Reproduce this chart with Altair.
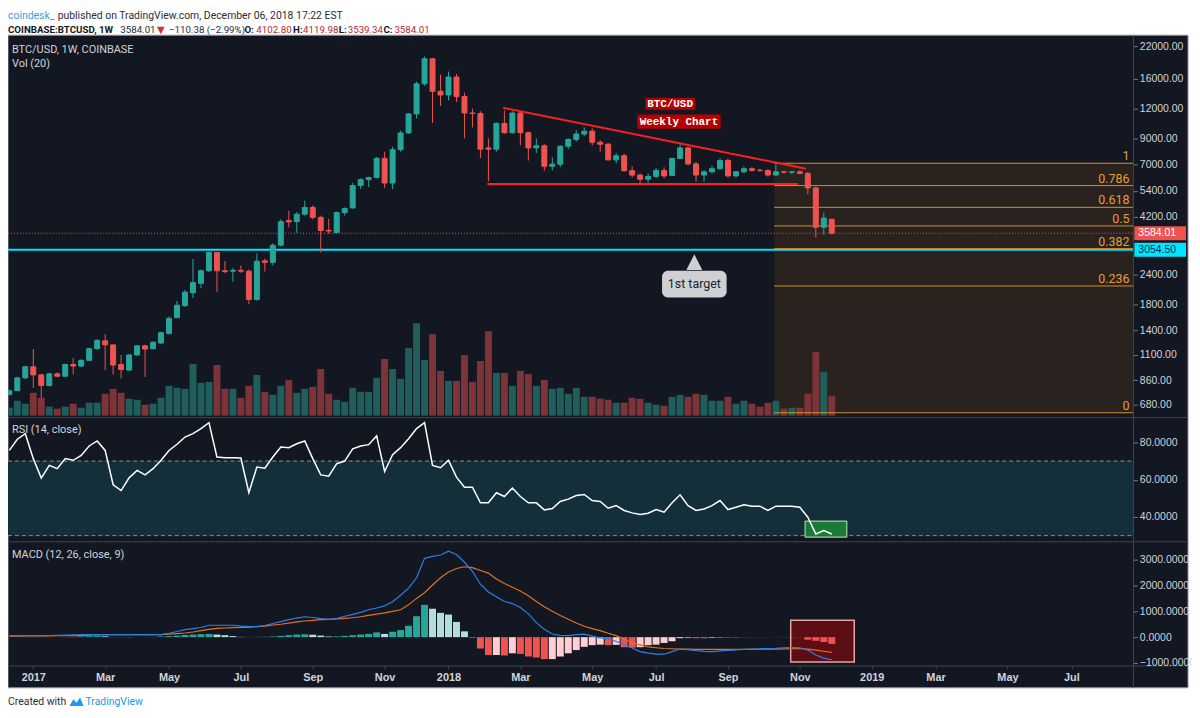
import altair as alt
import numpy as np
import pandas as pd

# ---------------- values ----------------
FIRST_WEEK = "2016-12-12"   # weekly candles (Monday open), 104 weeks

OPEN = [750, 778, 881, 981, 907, 818, 916, 895, 1003, 988,
        1044, 1169, 1262, 1213, 1003, 950, 1100, 1202, 1170, 1235,
        1356, 1580, 1775, 2010, 2205, 2490, 2970, 2490, 2480, 2500,
        2480, 1886, 2740, 2700, 3190, 4050, 4010, 4310, 4600, 4180,
        3680, 3610, 4380, 4580, 5690, 6030, 6150, 7410, 5830, 8060,
        9480, 11400, 15270, 19470, 14200, 13700, 16300, 13500, 11500, 11450,
        8200, 8100, 10400, 9500, 11500, 9500, 8200, 8370, 6860, 7000,
        8330, 8900, 9380, 9640, 8660, 8500, 7300, 7600, 6570, 6300,
        6050, 6220, 6590, 6280, 7400, 8200, 7020, 6300, 6500, 6700,
        7260, 6250, 6500, 6700, 6600, 6590, 6300, 6500, 6480, 6500,
        6400, 5560, 3800, 4103]
HIGH = [785, 890, 990, 1165, 915, 925, 930, 1010, 1070, 1055,
        1180, 1280, 1343, 1220, 1100, 1110, 1210, 1215, 1255, 1380,
        1600, 1860, 2070, 2790, 2520, 3000, 2990, 2740, 2560, 2620,
        2520, 2940, 2800, 3250, 4110, 4460, 4400, 4920, 4700, 4250,
        4120, 4420, 4600, 5850, 6100, 6200, 7500, 7900, 8300, 9700,
        11500, 15600, 19900, 19500, 16700, 17200, 16800, 14000, 12000, 11700,
        9000, 10500, 11800, 11700, 11600, 9600, 9000, 8500, 7500, 8400,
        9000, 9750, 10000, 9900, 8850, 8600, 7800, 7750, 6850, 6400,
        6400, 6750, 6800, 7450, 8500, 8300, 7150, 6600, 6900, 7400,
        7400, 6550, 6850, 6800, 6700, 6650, 7000, 6550, 6550, 6600,
        6500, 5620, 4380, 4120]
LOW = [745, 775, 870, 800, 726, 810, 885, 890, 910, 975,
       1040, 1160, 949, 910, 876, 940, 1090, 889, 1160, 1225,
       1340, 1570, 1750, 1910, 2100, 2460, 2030, 2430, 2240, 2440,
       1800, 1860, 2470, 2620, 3150, 3790, 3600, 4250, 4100, 2970,
       3560, 3600, 4250, 4550, 5500, 5620, 6100, 5560, 5500, 7900,
       9400, 10900, 15000, 10450, 12300, 13000, 12800, 9000, 10000, 7430,
       5930, 7900, 9400, 9400, 8400, 7250, 7800, 6570, 6600, 6800,
       8100, 8700, 9200, 8400, 7900, 7250, 7050, 6500, 6150, 5800,
       5850, 6100, 6100, 6250, 7350, 6900, 5900, 5900, 6400, 6650,
       6150, 6150, 6400, 6500, 6500, 6200, 6250, 6400, 6350, 6350,
       5240, 3440, 3530, 3539]
CLOSE = [778, 881, 981, 907, 818, 916, 895, 1003, 988, 1044,
         1169, 1268, 1213, 998, 955, 1100, 1202, 1165, 1245, 1365,
         1570, 1783, 2024, 2220, 2490, 2970, 2490, 2470, 2500, 2480,
         1886, 2730, 2700, 3190, 4010, 4000, 4310, 4600, 4180, 3680,
         3660, 4380, 4560, 5690, 6030, 6150, 7410, 5830, 8060, 9480,
         11400, 15270, 19470, 14200, 13700, 16300, 13500, 11500, 11450, 8100,
         8100, 10400, 9500, 11500, 9500, 8200, 8370, 6860, 7000, 8330,
         8900, 9380, 9640, 8660, 8500, 7300, 7600, 6570, 6300, 6050,
         6220, 6590, 6250, 7400, 8200, 7020, 6300, 6500, 6700, 7260,
         6250, 6500, 6700, 6600, 6590, 6300, 6500, 6480, 6500, 6400,
         5560, 3800, 4150, 3584]
VOLUME = [8, 15, 12, 23, 18, 9, 7, 9, 12, 8,
          13, 13, 22, 27, 23, 17, 16, 11, 12, 18,
          30, 28, 27, 52, 33, 34, 51, 27, 27, 18,
          30, 41, 24, 21, 30, 36, 23, 27, 29, 47,
          22, 16, 14, 28, 24, 24, 38, 57, 47, 37,
          68, 93, 56, 82, 45, 35, 35, 61, 34, 55,
          85, 43, 43, 30, 45, 42, 30, 36, 27, 28,
          22, 28, 19, 19, 17, 16, 13, 13, 18, 17,
          13, 11, 10, 19, 21, 19, 22, 21, 15, 15,
          19, 12, 15, 12, 9, 13, 15, 7, 8, 8,
          22, 64, 44, 20]
RSI = [75.7, 81.7, 84.7, 71.3, 60.9, 67.7, 65.9, 71.3, 70.4, 73.0,
       78.1, 80.8, 75.7, 57.3, 54.2, 61.0, 65.0, 62.6, 65.9, 70.4,
       75.7, 79.0, 82.9, 84.7, 87.4, 90.6, 72.2, 71.8, 71.8, 71.6,
       53.0, 66.8, 66.2, 72.2, 77.5, 77.2, 79.3, 80.8, 71.3, 62.6,
       61.9, 68.6, 70.0, 76.6, 78.1, 78.8, 83.5, 64.4, 73.4, 77.2,
       82.0, 87.4, 90.6, 67.7, 66.4, 70.4, 61.4, 56.0, 56.0, 47.6,
       47.6, 53.0, 51.0, 55.5, 51.0, 47.6, 47.6, 43.8, 44.5, 48.3,
       49.6, 51.5, 52.1, 48.8, 48.3, 44.7, 46.1, 43.5, 42.2, 41.3,
       42.0, 44.0, 42.6, 47.6, 51.9, 46.1, 43.5, 44.3, 46.1, 48.8,
       44.0, 45.2, 46.5, 45.8, 45.8, 43.5, 45.8, 45.8, 45.8, 45.2,
       39.9, 30.9, 32.7, 30.9]
MACD = [60, 60, 60, 60, 60, 65, 70, 80, 90, 95,
        100, 100, 100, 100, 95, 95, 95, 100, 100, 100,
        150, 220, 290, 330, 375, 460, 460, 460, 460, 430,
        410, 410, 450, 530, 600, 680, 740, 790, 760, 720,
        690, 720, 810, 880, 960, 1060, 1130, 1210, 1370, 1620,
        1900, 2300, 3050, 3130, 3180, 3330, 3200, 2900, 2550, 2050,
        1750, 1560, 1380, 1300, 1150, 900, 560, 310, 120, 70,
        60, 100, 120, 40, -30, -60, -170, -290, -420, -560,
        -620, -660, -660, -560, -460, -480, -520, -550, -560, -530,
        -510, -490, -475, -460, -450, -440, -430, -410, -400, -410,
        -500, -690, -810, -875]
SIGNAL = [40, 40, 45, 45, 50, 50, 55, 55, 60, 60,
          75, 90, 100, 100, 100, 100, 100, 100, 100, 100,
          120, 140, 160, 200, 250, 300, 340, 355, 370, 375,
          390, 410, 430, 470, 500, 540, 590, 625, 650, 675,
          690, 710, 730, 750, 790, 840, 890, 940, 1000, 1060,
          1250, 1500, 1720, 2020, 2300, 2520, 2660, 2725, 2690, 2580,
          2480, 2250, 2080, 1930, 1790, 1600, 1380, 1180, 1000, 840,
          690, 550, 420, 330, 250, 150, 60, -80, -225, -300,
          -375, -410, -440, -450, -460, -465, -470, -475, -475, -475,
          -475, -475, -475, -470, -465, -460, -460, -455, -450, -440,
          -460, -500, -545, -590]
HIST = [2, 3, 5, 4, 2, 3, 3, 5, 8, 25,
        35, 40, 30, 5, -5, -5, 0, 2, 5, 25,
        40, 60, 85, 100, 115, 125, 100, 75, 40, 10,
        -5, 10, 15, 25, 50, 75, 100, 110, 95, 60,
        25, 30, 50, 75, 100, 125, 185, 125, 210, 275,
        440, 810, 1250, 1100, 940, 875, 590, 225, -25, -440,
        -690, -690, -710, -625, -650, -750, -790, -850, -850, -750,
        -625, -500, -375, -310, -290, -310, -300, -390, -410, -390,
        -310, -290, -225, -160, -40, -25, -40, -45, -25, -15,
        -18, -10, -5, 5, 3, 2, 5, 8, 5, -3,
        -100, -140, -190, -260]

FIB_LEVELS = ["0", "0.236", "0.382", "0.5", "0.618", "0.786", "1"]
FIB_PRICES = [628, 2148, 3087, 3846, 4606, 5688, 7065]
FIB_FROM = "2018-10-13T14:00:00Z"

LAST_PRICE = 3584.01
TARGET_PRICE = 3054.50
PRICE_TICKS = [680, 860, 1100, 1400, 1800, 2400, 4200, 5400, 7000, 9000, 12000, 16000, 22000]
RSI_TICKS = [40, 60, 80]
RSI_BANDS = [30, 70]
MACD_TICKS = [-1000, 0, 1000, 2000, 3000]

TRI_X = ["2018-02-17T22:00:00Z", "2018-02-04T00:00:00Z"]
TRI_X2 = ["2018-11-10T12:00:00Z", "2018-11-03T12:00:00Z"]
TRI_Y = [12100, 5770]
TRI_Y2 = [6700, 5770]

NOTE_TEXT = ["BTC/USD", "Weekly Chart"]
NOTE_X = ["2018-06-22T10:00:00Z", "2018-06-15T10:00:00Z"]
NOTE_X2 = ["2018-08-05T00:00:00Z", "2018-08-27T14:00:00Z"]
NOTE_MID = ["2018-07-14T05:00:00Z", "2018-07-22T00:00:00Z"]
NOTE_TOP = [13330, 11330]
NOTE_BOTTOM = [11860, 9880]
NOTE_Y = [12580, 10550]

TARGET_TEXT = ["1st target"]
TARGET_X = ["2018-07-07T05:00:00Z"]
TARGET_X2 = ["2018-09-01T19:00:00Z"]
TARGET_MID = ["2018-08-04T12:00:00Z"]
TARGET_TOP = [2493]
TARGET_BOTTOM = [1923]
TARGET_TEXT_Y = [2189]
TARGET_POINTER_Y = [2706]

RSI_BOX_X = ["2018-11-09T14:00:00Z"]
RSI_BOX_X2 = ["2018-12-16T05:00:00Z"]
RSI_BOX_Y = [29.2]
RSI_BOX_Y2 = [37.8]
MACD_BOX_X = ["2018-10-28T00:00:00Z"]
MACD_BOX_X2 = ["2018-12-22T17:00:00Z"]
MACD_BOX_Y = [-962]
MACD_BOX_Y2 = [654]

XTICKS = ["2017-01-02", "2017-03-06", "2017-05-01", "2017-07-03", "2017-09-04", "2017-11-06",
          "2018-01-01", "2018-03-05", "2018-05-07", "2018-07-02", "2018-09-03", "2018-11-05",
          "2019-01-07", "2019-03-04", "2019-05-06", "2019-07-01"]
X_FROM = (2016, 12, 10, 20)
X_TO = (2019, 8, 24, 10)
X_TO_STR = "2019-08-24T10:00:00Z"

# ---------------- layout / style ----------------
W, H = 1133, 635
AX = 55
BG = "#131722"
LINE = "#434651"
TXT = "#d1d4dc"
UP, DOWN = "#26a69a", "#ef5350"
VOL_UP, VOL_DOWN = "#1f5e5b", "#7d3438"
UI = "Roboto"

PRICE_SC = dict(type="log", domain=[599, 24460], range=[385, 0], nice=False)
VOL_SC = dict(type="linear", domain=[0, 383], range=[383, 0], nice=False, zero=False)
RSI_SC = dict(type="linear", domain=[26.7, 93.3], range=[510, 385], nice=False, zero=False)
MACD_SC = dict(type="linear", domain=[-1115, 3692], range=[635, 510], nice=False, zero=False)


def dt(y, m, d, h=0):
    return alt.DateTime(year=y, month=m, date=d, hours=h, utc=True)


xscale = alt.Scale(type="utc", domain=[dt(*X_FROM), dt(*X_TO)], padding=0, nice=False)
xaxis = alt.Axis(
    values=[dt(int(s[:4]), int(s[5:7]), int(s[8:10])) for s in XTICKS],
    labelExpr="utcmonth(datum.value) == 0 ? utcFormat(datum.value, '%Y') : utcFormat(datum.value, '%b')",
    grid=False, domain=False, tickColor=LINE, tickSize=3, labelColor=TXT,
    labelFont="Liberation Sans", labelFontSize=11, labelFontWeight="bold",
    labelPadding=3, labelFlush=False, labelOverlap=False, title=None, zindex=1)


def X(field="date"):
    return alt.X(f"{field}:T", scale=xscale, axis=xaxis, title=None)


def Y(field, sc, axis=None):
    return alt.Y(f"{field}:Q", scale=alt.Scale(**sc), axis=axis, title=None)


def raxis(values, fmt):
    return alt.Axis(orient="right", values=values, format=fmt, grid=False, domain=False,
                    tickColor="#787b86", tickSize=4, labelColor=TXT, labelFont="Liberation Sans",
                    labelFontSize=10.5, labelPadding=2, labelFlush=False, labelOverlap=False,
                    title=None, zindex=1)


ONE = alt.Data(values=[{"k": 0}])


def label(text, x, y, **kw):
    kw.setdefault("align", "left")
    kw.setdefault("baseline", "middle")
    kw.setdefault("font", UI)
    return alt.Chart(ONE).mark_text(text=text, **kw).encode(x=alt.value(x), y=alt.value(y))


def pix_rule(x, x2, y, y2, color, width=1):
    return alt.Chart(ONE).mark_rule(color=color, strokeWidth=width).encode(
        x=alt.value(x), x2=alt.value(x2), y=alt.value(y), y2=alt.value(y2))


# ---------------- tables ----------------
df = pd.DataFrame({"o": OPEN, "h": HIGH, "l": LOW, "c": CLOSE, "v": VOLUME,
                   "rsi": RSI, "macd": MACD, "sig": SIGNAL, "hist": HIST})
df["date"] = pd.date_range(FIRST_WEEK, periods=len(CLOSE), freq="7D").strftime("%Y-%m-%dT00:00:00Z")
df["dir"] = np.where(np.array(CLOSE) >= np.array(OPEN), "up", "down")
hv = np.array(HIST, dtype=float)
prev = np.concatenate([[0.0], hv[:-1]])
df["hcat"] = np.where(hv >= 0, np.where(hv >= prev, "pos_up", "pos_down"),
                      np.where(hv < prev, "neg_down", "neg_up"))

fib = pd.DataFrame({"level": FIB_LEVELS, "price": FIB_PRICES})
fib["x"] = FIB_FROM
fib["x2"] = X_TO_STR
fib_zone = pd.DataFrame({"x": [FIB_FROM], "x2": [X_TO_STR], "lo": [FIB_PRICES[0]], "hi": [FIB_PRICES[-1]]})
tri = pd.DataFrame({"x": TRI_X, "x2": TRI_X2, "y": TRI_Y, "y2": TRI_Y2})
notes = pd.DataFrame({"t": NOTE_TEXT, "x": NOTE_X, "x2": NOTE_X2, "mid": NOTE_MID,
                      "top": NOTE_TOP, "bot": NOTE_BOTTOM, "y": NOTE_Y})
target = pd.DataFrame({"t": TARGET_TEXT, "x": TARGET_X, "x2": TARGET_X2, "mid": TARGET_MID,
                       "top": TARGET_TOP, "bot": TARGET_BOTTOM, "ty": TARGET_TEXT_Y,
                       "py": TARGET_POINTER_Y})
lines = pd.DataFrame({"p": [TARGET_PRICE, LAST_PRICE], "t": ["%.2f" % TARGET_PRICE, "%.2f" % LAST_PRICE]})
bands = pd.DataFrame({"lo": [RSI_BANDS[0]], "hi": [RSI_BANDS[1]]})
band_lines = pd.DataFrame({"y": RSI_BANDS})
rsi_box = pd.DataFrame({"x": RSI_BOX_X, "x2": RSI_BOX_X2, "y": RSI_BOX_Y, "y2": RSI_BOX_Y2})
macd_box = pd.DataFrame({"x": MACD_BOX_X, "x2": MACD_BOX_X2, "y": MACD_BOX_Y, "y2": MACD_BOX_Y2})

candle_scale = alt.Scale(domain=["up", "down"], range=[UP, DOWN])
base = alt.Chart(df)

layers = []
# dark panel
layers.append(alt.Chart(ONE).mark_rect(color=BG, stroke="#9598a1", strokeWidth=1).encode(
    x=alt.value(0), x2=alt.value(W + AX), y=alt.value(0), y2=alt.value(H + 22)))
# fib zone
layers.append(alt.Chart(fib_zone).mark_rect(color="#29221e", clip=True).encode(
    x=X("x"), x2="x2:T", y=Y("lo", PRICE_SC), y2="hi:Q"))
# volume
layers.append(base.mark_bar(size=7, clip=True).encode(
    x=X(), y=Y("v", VOL_SC),
    color=alt.Color("dir:N", scale=alt.Scale(domain=["up", "down"], range=[VOL_UP, VOL_DOWN]), legend=None)))
# target (cyan) line and last price dotted line
layers.append(alt.Chart(lines.iloc[[0]]).mark_rule(color="#00e5ff", strokeWidth=2).encode(
    x=alt.value(0), x2=alt.value(W), y=Y("p", PRICE_SC)))
layers.append(alt.Chart(lines.iloc[[1]]).mark_rule(color="#ef5350", strokeWidth=1, strokeDash=[1, 2]).encode(
    x=alt.value(0), x2=alt.value(W), y=Y("p", PRICE_SC)))
# fib lines
layers.append(alt.Chart(fib).mark_rule(color="#d98e25", strokeWidth=1, clip=True).encode(
    x=X("x"), x2="x2:T", y=Y("price", PRICE_SC)))
# triangle
layers.append(alt.Chart(tri).mark_rule(color="#ff1e1e", strokeWidth=2).encode(
    x=X("x"), x2="x2:T", y=Y("y", PRICE_SC), y2="y2:Q"))
# candles
layers.append(base.mark_rule(strokeWidth=1, clip=True).encode(
    x=X(), y=Y("l", PRICE_SC), y2="h:Q",
    stroke=alt.Stroke("dir:N", scale=candle_scale, legend=None)))
layers.append(base.mark_bar(size=5, strokeWidth=1, clip=True).encode(
    x=X(), y=Y("o", PRICE_SC, raxis(PRICE_TICKS, ".2f")), y2="c:Q",
    fill=alt.Fill("dir:N", scale=candle_scale, legend=None),
    stroke=alt.Stroke("dir:N", scale=candle_scale, legend=None)))
# notes
layers.append(alt.Chart(notes).mark_rect(color="#b50000").encode(
    x=X("x"), x2="x2:T", y=Y("top", PRICE_SC), y2="bot:Q"))
layers.append(alt.Chart(notes).mark_text(color="#ffffff", font="Liberation Mono", fontWeight="bold",
                                         fontSize=11).encode(
    x=X("mid"), y=Y("y", PRICE_SC), text="t:N"))
# 1st target callout
layers.append(alt.Chart(target).mark_rect(color="#cfd0d3", cornerRadius=6).encode(
    x=X("x"), x2="x2:T", y=Y("top", PRICE_SC), y2="bot:Q"))
layers.append(alt.Chart(target).mark_point(shape="M-1,1L0,-1L1,1Z", filled=True, size=256,
                                            color="#cfd0d3", opacity=1, strokeWidth=0).encode(
    x=X("mid"), y=Y("py", PRICE_SC)))
layers.append(alt.Chart(target).mark_text(color="#1e222d", font=UI, fontSize=12.5).encode(
    x=X("mid"), y=Y("ty", PRICE_SC), text="t:N"))
# fib labels
layers.append(alt.Chart(fib).mark_text(color="#e59f35", font=UI, fontSize=12.5,
                                       align="right", baseline="alphabetic", dy=-3).encode(
    x=alt.value(W - 4), y=Y("price", PRICE_SC), text="level:N"))

# RSI pane
layers.append(alt.Chart(bands).mark_rect(color="#132f3a").encode(
    x=alt.value(0), x2=alt.value(W), y=Y("lo", RSI_SC), y2="hi:Q"))
layers.append(alt.Chart(band_lines).mark_rule(color="#8c8f99", strokeWidth=1, strokeDash=[4, 3]).encode(
    x=alt.value(0), x2=alt.value(W), y=Y("y", RSI_SC)))
layers.append(alt.Chart(rsi_box).mark_rect(color="#1b7a35", stroke="#c5e5c6", strokeWidth=1).encode(
    x=X("x"), x2="x2:T", y=Y("y", RSI_SC), y2="y2:Q"))
layers.append(base.mark_line(color="#ffffff", strokeWidth=1.5, clip=True).encode(
    x=X(), y=Y("rsi", RSI_SC, raxis(RSI_TICKS, ".4f"))))

# MACD pane
layers.append(alt.Chart(macd_box).mark_rect(color="#5c0e14", stroke="#e3a5a8", strokeWidth=1.5).encode(
    x=X("x"), x2="x2:T", y=Y("y", MACD_SC), y2="y2:Q"))
layers.append(base.mark_bar(size=7, clip=True).encode(
    x=X(), y=Y("hist", MACD_SC, raxis(MACD_TICKS, ".4f")),
    color=alt.Color("hcat:N", scale=alt.Scale(domain=["pos_up", "pos_down", "neg_down", "neg_up"],
                                              range=["#26a69a", "#b2dfdb", "#ef5350", "#ffcdd2"]),
                    legend=None)))
layers.append(base.mark_line(color="#e8701d", strokeWidth=1.2, clip=True).encode(
    x=X(), y=Y("sig", MACD_SC)))
layers.append(base.mark_line(color="#2f7fe0", strokeWidth=1.2, clip=True).encode(
    x=X(), y=Y("macd", MACD_SC)))

# pane separators, axis lines
layers.append(pix_rule(0, W + AX, 385, 385, LINE))
layers.append(pix_rule(0, W + AX, 510, 510, LINE))
layers.append(pix_rule(0, W + AX, H, H, LINE))
layers.append(pix_rule(W, W, 0, H + 22, LINE))

# price tags on the axis
TAG = "M-1,-0.27L1,-0.27L1,0.27L-1,0.27Z"
layers.append(alt.Chart(lines.iloc[[1]]).mark_point(shape=TAG, filled=True, size=2704, color="#ef5350",
                                                    opacity=1, strokeWidth=0).encode(
    x=alt.value(W + 27), y=Y("p", PRICE_SC)))
layers.append(alt.Chart(lines.iloc[[0]]).mark_point(shape=TAG, filled=True, size=2704, color="#00e5ff",
                                                    opacity=1, strokeWidth=0).encode(
    x=alt.value(W + 27), y=Y("p", PRICE_SC)))
layers.append(alt.Chart(lines.iloc[[1]]).mark_text(color="#ffffff", font="Liberation Sans", fontSize=10.5,
                                                   align="left").encode(
    x=alt.value(W + 5), y=Y("p", PRICE_SC), text="t:N"))
layers.append(alt.Chart(lines.iloc[[0]]).mark_text(color="#0d2a4a", font="Liberation Sans", fontSize=10.5,
                                                   align="left").encode(
    x=alt.value(W + 5), y=Y("p", PRICE_SC), text="t:N"))

# pane titles
layers.append(label("BTC/USD, 1W, COINBASE", 4, 15, color=TXT, fontSize=11))
layers.append(label("Vol (20)", 4, 29, color=TXT, fontSize=11))
layers.append(label("RSI (14, close)", 4, 397, color=TXT, fontSize=11))
layers.append(label("MACD (12, 26, close, 9)", 4, 523, color=TXT, fontSize=11))

# header
DARK = "#2a2e39"
RED = "#c0262e"
layers.append(label("coindesk_", 0, -19, color="#3a9fd8", fontSize=10.5))
layers.append(label("published on TradingView.com, December 06, 2018 17:22 EST", 50, -19, color=DARK,
                    fontSize=10.5))
y2h = -5
for txt, xx, col, wt in [("COINBASE:BTCUSD, 1W", 0, "#131722", "bold"), ("3584.01", 113, DARK, "normal"),
                         ("\u2212110.38 (\u22122.99%)", 162, DARK, "normal"),
                         ("O:", 238, "#131722", "bold"), ("4102.80", 250, RED, "normal"),
                         ("H:", 287, "#131722", "bold"), ("4119.98", 297, RED, "normal"),
                         ("L:", 333, "#131722", "bold"), ("3539.34", 342, RED, "normal"),
                         ("C:", 378, "#131722", "bold"), ("3584.01", 389, RED, "normal")]:
    layers.append(label(txt, xx, y2h, color=col, fontSize=9.8, fontWeight=wt))
layers.append(label("\u25bc", 150, y2h, color="#d32f2f", fontSize=10, font="DejaVu Sans"))

# footer
layers.append(label("Created with", 0, 671, color=DARK, fontSize=10.5))
layers.append(alt.Chart(ONE).mark_point(shape="M-1,0.6L-0.45,-0.35L0,0.15L0.5,-0.6L1,0.6Z", filled=True,
                                         size=200, color="#2196f3", opacity=1, strokeWidth=0).encode(
    x=alt.value(69), y=alt.value(671)))
layers.append(label("TradingView", 78, 671, color="#2196f3", fontSize=10.5))

chart = alt.layer(*layers).properties(
    width=W, height=H,
    padding={"left": 0, "top": 25, "right": 59, "bottom": 50},
    autosize=alt.AutoSizeParams(type="none"),
    background="white",
).resolve_scale(
    y="independent", color="independent", fill="independent", stroke="independent"
).configure_view(strokeWidth=0)

chart.save("out.html", embed_options={"renderer": "svg", "actions": False})
